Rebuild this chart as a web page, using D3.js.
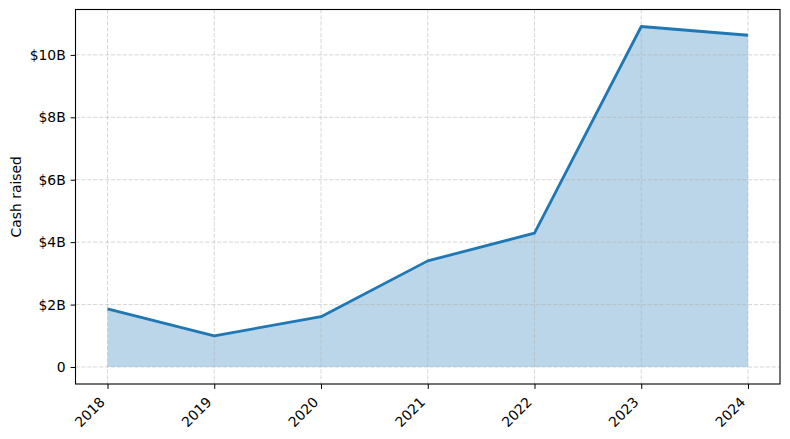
<!DOCTYPE html>
<html>
<head>
<meta charset="utf-8">
<script src="https://cdn.jsdelivr.net/npm/d3@7"></script>
<style>
  body { margin: 0; background: #fff; }
  text { font-family: "DejaVu Sans", sans-serif; }
</style>
</head>
<body>
<div id="chart"></div>
<script>
var years = [2018, 2019, 2020, 2021, 2022, 2023, 2024];
var cash = [1.86, 1.0, 1.61, 3.40, 4.29, 10.91, 10.63]; // billions
var yTicks = [0, 2, 4, 6, 8, 10];

var margin = { left: 75.5, right: 10, top: 9.5, bottom: 55 };
var W = 790, H = 439;
var w = W - margin.left - margin.right;
var h = H - margin.top - margin.bottom;

var x = d3.scaleLinear()
  .domain([2018 - 0.3, 2024 + 0.3])
  .range([0, w]);

var y = d3.scaleLinear()
  .domain([-0.5455, 11.455])
  .range([h, 0]);

var svg = d3.select("#chart").append("svg")
  .attr("width", W)
  .attr("height", H)
  .append("g")
  .attr("transform", "translate(" + margin.left + "," + margin.top + ")");

var data = years.map(function(d, i) { return { year: d, v: cash[i] }; });

// fill under line
svg.append("path")
  .datum(data)
  .attr("fill", "#1f77b4")
  .attr("fill-opacity", 0.3)
  .attr("d", d3.area()
    .x(function(d) { return x(d.year); })
    .y0(y(0))
    .y1(function(d) { return y(d.v); }));

// grid
var grid = svg.append("g").attr("class", "grid");
grid.selectAll(".vg").data(years).enter().append("line")
  .attr("x1", function(d) { return x(d); })
  .attr("x2", function(d) { return x(d); })
  .attr("y1", 0).attr("y2", h)
  .attr("stroke", "#b0b0b0").attr("stroke-opacity", 0.5)
  .attr("stroke-width", 1).attr("stroke-dasharray", "4.1,1.8");
grid.selectAll(".hg").data(yTicks).enter().append("line")
  .attr("y1", function(d) { return y(d); })
  .attr("y2", function(d) { return y(d); })
  .attr("x1", 0).attr("x2", w)
  .attr("stroke", "#b0b0b0").attr("stroke-opacity", 0.5)
  .attr("stroke-width", 1).attr("stroke-dasharray", "4.1,1.8");

// line
svg.append("path")
  .datum(data)
  .attr("fill", "none")
  .attr("stroke", "#1f77b4")
  .attr("stroke-width", 2.8)
  .attr("stroke-linejoin", "round")
  .attr("stroke-linecap", "butt")
  .attr("d", d3.line()
    .x(function(d) { return x(d.year); })
    .y(function(d) { return y(d.v); }));

// axes
var fmt = function(d) { return d === 0 ? "0" : "$" + d + "B"; };

var xAxis = svg.append("g")
  .attr("transform", "translate(0," + h + ")")
  .call(d3.axisBottom(x).tickValues(years).tickFormat(d3.format("d")).tickSize(4.9).tickSizeOuter(0));
xAxis.select(".domain").remove();
xAxis.selectAll("text")
  .style("font-size", "13.9px")
  .style("fill", "#000")
  .attr("text-anchor", "end")
  .attr("dy", null)
  .attr("y", 0)
  .attr("transform", "translate(-2.3,19) rotate(-45)");
xAxis.selectAll("line").attr("stroke", "#000").attr("stroke-width", 1);

var yAxis = svg.append("g")
  .call(d3.axisLeft(y).tickValues(yTicks).tickFormat(fmt).tickSize(4.9).tickPadding(4.9).tickSizeOuter(0));
yAxis.select(".domain").remove();
yAxis.selectAll("text").style("font-size", "13.9px").style("fill", "#000");
yAxis.selectAll("line").attr("stroke", "#000").attr("stroke-width", 1);

// frame
svg.append("rect")
  .attr("x", 0).attr("y", 0).attr("width", w).attr("height", h)
  .attr("fill", "none").attr("stroke", "#000").attr("stroke-width", 1.1);

// y label
svg.append("text")
  .attr("transform", "rotate(-90)")
  .attr("x", -h / 2)
  .attr("y", -margin.left + 21)
  .style("text-anchor", "middle")
  .style("font-size", "13.9px")
  .text("Cash raised");
</script>
</body>
</html>
